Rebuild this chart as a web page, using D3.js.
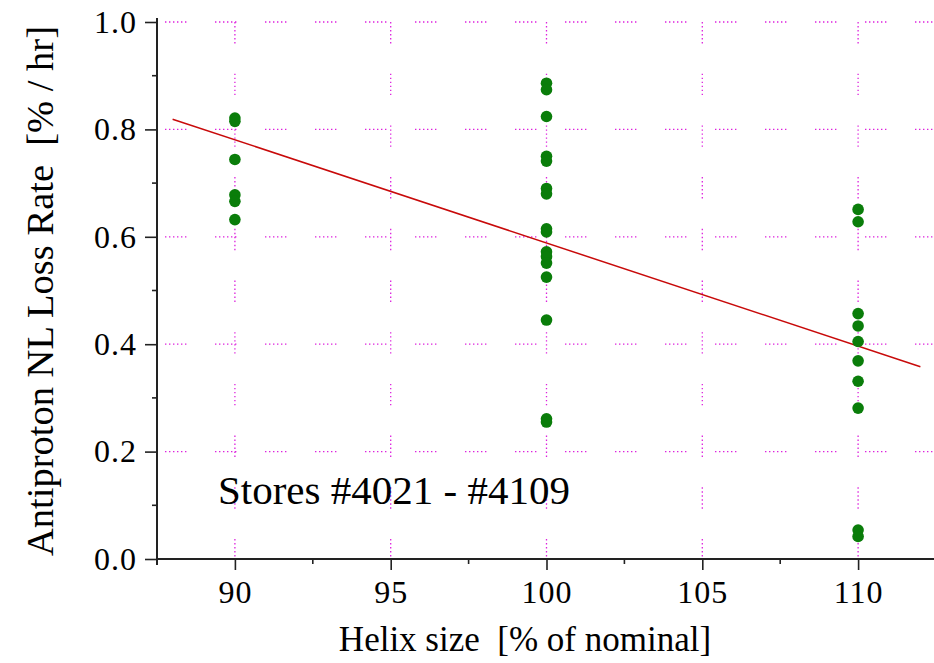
<!doctype html>
<html>
<head>
<meta charset="utf-8">
<script src="https://d3js.org/d3.v7.min.js"></script>
<style>
  body { margin: 0; background: #fff; }
  text { font-family: "Liberation Serif", "Times New Roman", serif; fill: #000; }
</style>
</head>
<body>
<svg width="934" height="663"></svg>
<script>
// data
var helixSizes = [90, 100, 110];
var lossAt90  = [0.821, 0.815, 0.744, 0.678, 0.666, 0.632];
var lossAt100 = [0.886, 0.874, 0.824, 0.750, 0.741, 0.690, 0.680, 0.615, 0.609,
                 0.572, 0.563, 0.551, 0.525, 0.445, 0.261, 0.255];
var lossAt110 = [0.651, 0.628, 0.457, 0.434, 0.405, 0.369, 0.331, 0.281, 0.054, 0.042];
var fitX = [88, 112];
var fitY = [0.819, 0.358];
var xTicks = [90, 95, 100, 105, 110];
var xMinor = [92.5, 97.5, 102.5, 107.5];
var yTicks = [0.0, 0.2, 0.4, 0.6, 0.8, 1.0];
var yMinor = [0.1, 0.3, 0.5, 0.7, 0.9];

var svg = d3.select("svg");

var x = d3.scaleLinear().domain([87.5, 112.5]).range([157, 936]);
var y = d3.scaleLinear().domain([0, 1]).range([559, 22]);

var gridColor = "#dd22dd";
// dotted dashes: six dots then a gap
var dots = "1.4,2.6,1.4,2.6,1.4,2.6,1.4,2.6,1.4,2.6,1.4,";

// horizontal grid
svg.append("g").selectAll("line")
   .data(yTicks.filter(function(d) { return d > 0; }))
   .enter().append("line")
   .attr("x1", 165).attr("x2", 934)
   .attr("y1", function(d) { return y(d); })
   .attr("y2", function(d) { return y(d); })
   .attr("stroke", gridColor)
   .attr("stroke-width", 1.3)
   .attr("stroke-dasharray", dots + "28.6");

// vertical grid
svg.append("g").selectAll("line")
   .data(xTicks)
   .enter().append("line")
   .attr("x1", function(d) { return x(d); })
   .attr("x2", function(d) { return x(d); })
   .attr("y1", y(1)).attr("y2", y(0))
   .attr("stroke", gridColor)
   .attr("stroke-width", 1.3)
   .attr("stroke-dasharray", dots + "30.3");

// axes
var xAxis = svg.append("g")
   .attr("transform", "translate(0," + y(0) + ")")
   .call(d3.axisBottom(x).tickValues(xTicks).tickSize(11).tickPadding(10).tickFormat(d3.format("d")));
xAxis.append("g").selectAll("line")
   .data(xMinor).enter().append("line")
   .attr("x1", function(d) { return x(d); })
   .attr("x2", function(d) { return x(d); })
   .attr("y1", 0).attr("y2", 5)
   .attr("stroke", "#222").attr("stroke-width", 1.6);

var yAxis = svg.append("g")
   .attr("transform", "translate(" + x(87.5) + ",0)")
   .call(d3.axisLeft(y).tickValues(yTicks).tickSize(12).tickPadding(8).tickFormat(d3.format(".1f")));
yAxis.append("g").selectAll("line")
   .data(yMinor).enter().append("line")
   .attr("x1", 0).attr("x2", -5)
   .attr("y1", function(d) { return y(d); })
   .attr("y2", function(d) { return y(d); })
   .attr("stroke", "#222").attr("stroke-width", 1.6);

[xAxis, yAxis].forEach(function(a) {
  a.selectAll(".tick line").attr("stroke", "#222").attr("stroke-width", 1.6);
  a.selectAll(".tick text").attr("font-size", "32px").attr("fill", "#000")
   .attr("letter-spacing", "1px");
  a.select(".domain").remove();
});

// axis lines drawn by hand so they run off the right edge / below the x axis
svg.append("line")
   .attr("x1", x(87.5)).attr("x2", 934)
   .attr("y1", y(0)).attr("y2", y(0))
   .attr("stroke", "#222").attr("stroke-width", 2);
svg.append("line")
   .attr("x1", x(87.5)).attr("x2", x(87.5))
   .attr("y1", y(1) - 4).attr("y2", y(0) + 6)
   .attr("stroke", "#222").attr("stroke-width", 2);

// fit line
svg.append("line")
   .attr("x1", x(fitX[0])).attr("y1", y(fitY[0]))
   .attr("x2", x(fitX[1])).attr("y2", y(fitY[1]))
   .attr("stroke", "#c80a0a")
   .attr("stroke-width", 1.5);

// points
var points = [];
[lossAt90, lossAt100, lossAt110].forEach(function(vals, i) {
  vals.forEach(function(v) { points.push({ h: helixSizes[i], v: v }); });
});
svg.append("g").selectAll("circle")
   .data(points)
   .enter().append("circle")
   .attr("cx", function(d) { return x(d.h); })
   .attr("cy", function(d) { return y(d.v); })
   .attr("r", 5.8)
   .attr("fill", "#0a7d0a");

// labels
svg.append("text")
   .attr("x", 525).attr("y", 651)
   .attr("text-anchor", "middle")
   .attr("font-size", "35px")
   .style("white-space", "pre")
   .text("Helix size  [% of nominal]");

svg.append("text")
   .attr("transform", "translate(53,291) rotate(-90)")
   .attr("text-anchor", "middle")
   .attr("font-size", "38.5px")
   .style("white-space", "pre")
   .text("Antiproton NL Loss Rate  [% / hr]");

svg.append("text")
   .attr("x", 218).attr("y", 504)
   .attr("font-size", "41px")
   .text("Stores #4021 - #4109");
</script>
</body>
</html>
